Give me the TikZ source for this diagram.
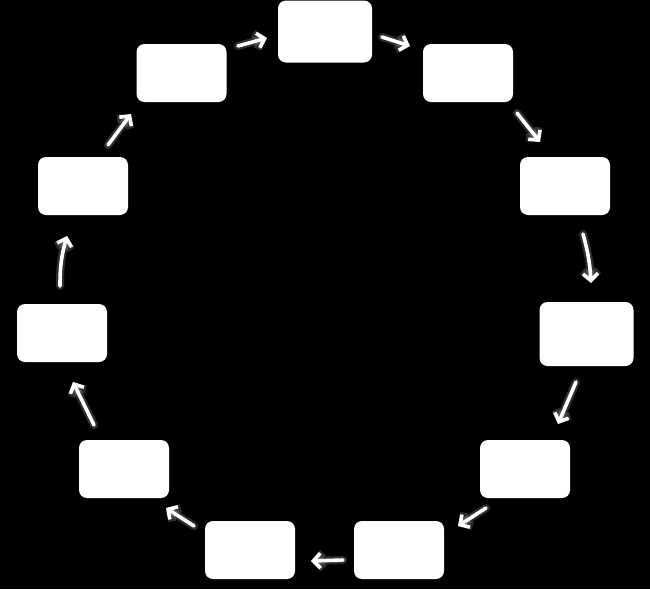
\documentclass[tikz,border=0pt]{standalone}
\usetikzlibrary{arrows.meta}
\begin{document}
\begin{tikzpicture}[x=1pt,y=-1pt,
  stepbox/.style={fill=white,rounded corners=8pt,minimum width=90pt,minimum height=58pt,inner sep=0pt},
  bigbox/.style={stepbox,minimum width=94pt,minimum height=62pt},
  glowline/.style={draw=white,line width=8pt,opacity=0.18,line cap=round,-{Straight Barb[length=7pt,width=16pt,line width=8pt]}},
  flow/.style={draw=white,line width=3.6pt,line cap=round,-{Straight Barb[length=7pt,width=15pt,line width=3.6pt]}}]
\fill[black] (0,0) rectangle (650,589);
\useasboundingbox (0,0) rectangle (650,589);
\node[bigbox] (b1) at (325,31.5) {};
\node[stepbox] (b2) at (468,73) {};
\node[stepbox] (b3) at (565,186) {};
\node[bigbox,minimum height=64pt] (b4) at (586.5,334) {};
\node[stepbox] (b5) at (525,469) {};
\node[stepbox] (b6) at (399,550) {};
\node[stepbox] (b7) at (250,550) {};
\node[stepbox] (b8) at (124,469) {};
\node[stepbox] (b9) at (62,333) {};
\node[stepbox] (b10) at (83,186) {};
\node[stepbox] (b11) at (181.5,73) {};
\coordinate (s1) at (238,46); \coordinate (e1) at (267,38);
\coordinate (s2) at (382,37); \coordinate (e2) at (410,46);
\coordinate (s3) at (517,113); \coordinate (e3) at (540,142);
\coordinate (s4) at (583,234); \coordinate (e4) at (591,283);
\coordinate (s5) at (576,382); \coordinate (e5) at (558,424);
\coordinate (s6) at (486,508); \coordinate (e6) at (458,526);
\coordinate (s7) at (343,560); \coordinate (e7) at (311,561);
\coordinate (s8) at (194,526); \coordinate (e8) at (166,508);
\coordinate (s9) at (94,425); \coordinate (e9) at (73,382);
\coordinate (s10) at (60,286); \coordinate (e10) at (67,236);
\coordinate (s11) at (108,145); \coordinate (e11) at (131,114);
\foreach \i in {1,2,3,5,6,7,8,9,11} {
  \draw[glowline] (s\i) -- (e\i);
  \draw[flow] (s\i) -- (e\i);
}
\draw[glowline] (s4) to[bend left=6] (e4);
\draw[flow] (s4) to[bend left=6] (e4);
\draw[glowline] (s10) to[bend left=8] (e10);
\draw[flow] (s10) to[bend left=8] (e10);
\end{tikzpicture}
\end{document}
